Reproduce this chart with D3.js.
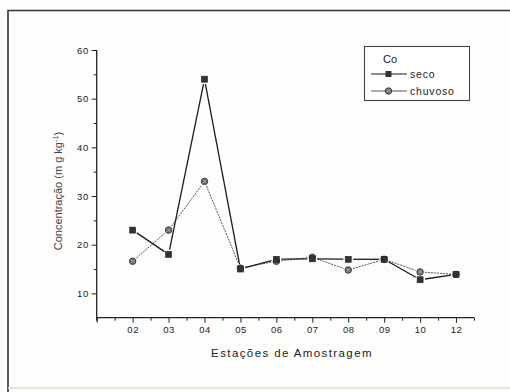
<!DOCTYPE html>
<html>
<head>
<meta charset="utf-8">
<script src="https://cdn.jsdelivr.net/npm/d3@7"></script>
<style>
  html, body { margin: 0; padding: 0; background: #fff; }
  svg { display: block; font-family: Arial, "Liberation Sans", sans-serif; }
</style>
</head>
<body>
<div id="chart"></div>
<script>
// station labels along the x axis
const stations = ['02', '03', '04', '05', '06', '07', '08', '09', '10', '12'];
// Co concentration (mg kg-1), dry season
const seco = [23, 18, 54, 15, 17, 17.1, 17, 17, 12.8, 13.9];
// Co concentration (mg kg-1), rainy season
const chuvoso = [16.6, 23, 33, 15.2, 16.6, 17.4, 14.8, 17, 14.4, 13.9];
const yTicks = [10, 20, 30, 40, 50, 60];

const width = 510;
const height = 392;

const svg = d3.select('#chart')
    .append('svg')
    .attr('width', width)
    .attr('height', height);

// scanned page frame
svg.append('rect').attr('width', width).attr('height', height).attr('fill', '#fdfdfc');
svg.append('path')
    .attr('d', 'M8,392 L8,10.5 L510,10.5')
    .attr('fill', 'none')
    .attr('stroke', '#333')
    .attr('stroke-width', 1.6);
svg.append('line')
    .attr('x1', 8).attr('x2', 510).attr('y1', 388).attr('y2', 388)
    .attr('stroke', '#d8ddd0').attr('stroke-width', 1.5);

// plot area
const plotLeft = 96.7, plotRight = 474, plotTop = 50, plotBottom = 317.7;

const x = d3.scaleLinear().domain([0, 10.5]).range([plotLeft, plotRight]);
const y = d3.scaleLinear().domain([5, 60]).range([plotBottom, plotTop]);

const g = svg.append('g');

// x axis: ticks every half step, labels on stations
const xAxis = g.append('g')
    .attr('transform', `translate(0,${plotBottom})`)
    .call(d3.axisBottom(x)
        .tickValues(d3.range(0, 10.51, 0.5))
        .tickSizeOuter(0)
        .tickSize(4)
        .tickFormat(d => (Number.isInteger(d) && d >= 1) ? stations[d - 1] : ''));
xAxis.select('.domain').attr('stroke', '#222').attr('stroke-width', 1.3)
    .attr('d', `M${plotLeft},0H${plotRight}`);
xAxis.selectAll('.tick line')
    .attr('stroke', '#222')
    .attr('y2', d => Number.isInteger(d) ? 5 : 3);
xAxis.selectAll('.tick text')
    .attr('y', 9)
    .attr('fill', '#222')
    .attr('font-size', 9.5)
    .attr('letter-spacing', 0.5);

// y axis: minor ticks at 5s
const yAxis = g.append('g')
    .attr('transform', `translate(${plotLeft},0)`)
    .call(d3.axisLeft(y)
        .tickValues(d3.range(10, 60.1, 5))
        .tickSizeOuter(0)
        .tickSize(5)
        .tickFormat(d => yTicks.includes(d) ? d : ''));
yAxis.select('.domain').attr('stroke', '#222').attr('stroke-width', 1.3)
    .attr('d', `M0,${plotTop}V${plotBottom + 3}`);
yAxis.selectAll('.tick line')
    .attr('stroke', '#222')
    .attr('x2', d => yTicks.includes(d) ? -5 : -3);
yAxis.selectAll('.tick text')
    .attr('x', -8)
    .attr('fill', '#222')
    .attr('font-size', 9.5)
    .attr('letter-spacing', 0.5);

// axis titles
svg.append('text')
    .attr('x', 292).attr('y', 357)
    .attr('text-anchor', 'middle')
    .attr('font-size', 11.5)
    .attr('letter-spacing', 1.4)
    .attr('fill', '#222')
    .text('Estações de Amostragem');

const yTitle = svg.append('text')
    .attr('transform', 'translate(62,191) rotate(-90)')
    .attr('text-anchor', 'middle')
    .attr('font-size', 11)
    .attr('fill', '#444');
yTitle.append('tspan').text('Concentração (m g kg');
yTitle.append('tspan').attr('dy', -4).attr('font-size', 7.5).text('-1');
yTitle.append('tspan').attr('dy', 4).text(')');

// lines with small gaps round the symbols, like the original plot
function drawSeries(values, lineStyle) {
    const pts = values.map((v, i) => [x(i + 1), y(v)]);
    const gap = 5;
    const segs = d3.pairs(pts).map(([a, b]) => {
        const dx = b[0] - a[0], dy = b[1] - a[1];
        const len = Math.hypot(dx, dy);
        const ux = dx / len, uy = dy / len;
        return [a[0] + ux * gap, a[1] + uy * gap, b[0] - ux * gap, b[1] - uy * gap];
    });
    g.append('g')
        .selectAll('line')
        .data(segs)
        .enter()
        .append('line')
        .attr('x1', d => d[0]).attr('y1', d => d[1])
        .attr('x2', d => d[2]).attr('y2', d => d[3])
        .attr('stroke', lineStyle.stroke)
        .attr('stroke-width', lineStyle.width)
        .attr('stroke-dasharray', lineStyle.dash);
    return pts;
}

drawSeries(chuvoso, { stroke: '#555', width: 1, dash: '2,1' });
drawSeries(seco, { stroke: '#1a1a1a', width: 1.3, dash: null });

function addSquares(values) {
    g.append('g')
        .selectAll('rect')
        .data(values)
        .enter()
        .append('rect')
        .attr('x', (d, i) => x(i + 1) - 3)
        .attr('y', d => y(d) - 3)
        .attr('width', 6)
        .attr('height', 6)
        .attr('fill', '#333')
        .attr('stroke', '#222')
        .attr('stroke-width', 0.6);
}

// hatched round symbol
function circleMark(sel) {
    sel.append('circle').attr('r', 3.3).attr('fill', '#666').attr('stroke', '#333').attr('stroke-width', 0.8);
    sel.append('path').attr('d', 'M-2,-2L2,2M-2,2L2,-2')
        .attr('stroke', '#bbb').attr('stroke-width', 0.8);
}

function addCircles(values) {
    const dots = g.append('g')
        .selectAll('g')
        .data(values)
        .enter()
        .append('g')
        .attr('transform', (d, i) => `translate(${x(i + 1)},${y(d)})`);
    circleMark(dots);
}

addCircles(chuvoso);
addSquares(seco);

// legend
const legend = svg.append('g');
legend.append('rect')
    .attr('x', 364.5).attr('y', 46.5)
    .attr('width', 105).attr('height', 54)
    .attr('fill', '#fff')
    .attr('stroke', '#444')
    .attr('stroke-width', 1.1);
legend.append('text')
    .attr('x', 383).attr('y', 63)
    .attr('font-size', 11)
    .attr('fill', '#222')
    .text('Co');

const legendRows = [
    { name: 'seco', y: 74, kind: 'square' },
    { name: 'chuvoso', y: 91, kind: 'circle' }
];
legendRows.forEach(row => {
    legend.append('line')
        .attr('x1', 371).attr('x2', 407)
        .attr('y1', row.y).attr('y2', row.y)
        .attr('stroke', row.kind === 'square' ? '#1a1a1a' : '#555')
        .attr('stroke-width', row.kind === 'square' ? 1.2 : 1);
    if (row.kind === 'square') {
        legend.append('rect')
            .attr('x', 385.5).attr('y', row.y - 3)
            .attr('width', 6).attr('height', 6)
            .attr('fill', '#333');
    } else {
        circleMark(legend.append('g').attr('transform', `translate(388.5,${row.y})`));
    }
    legend.append('text')
        .attr('x', 410).attr('y', row.y + 3.5)
        .attr('font-size', 10.5)
        .attr('letter-spacing', 0.8)
        .attr('fill', '#222')
        .text(row.name);
});
</script>
</body>
</html>
